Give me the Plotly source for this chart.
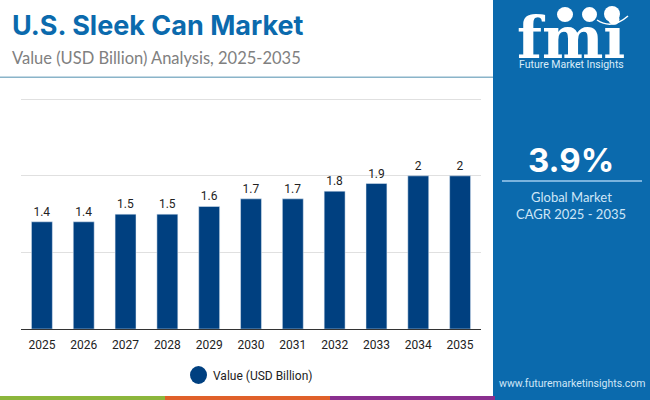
import plotly.graph_objects as go

years = ["2025", "2026", "2027", "2028", "2029", "2030", "2031", "2032", "2033", "2034", "2035"]
values = [1.4, 1.4, 1.5, 1.5, 1.6, 1.7, 1.7, 1.8, 1.9, 2, 2]
bar_labels = ["1.4", "1.4", "1.5", "1.5", "1.6", "1.7", "1.7", "1.8", "1.9", "2", "2"]

W = 650
H = 400
BLUE = "#0b6aad"
NAVY = "#004080"


def px(x):
    return x / W


def py(y):
    return 1 - y / H


def rect(x0, y0, x1, y1, color, layer="below"):
    return dict(type="rect", xref="paper", yref="paper", x0=px(x0), x1=px(x1),
                y0=py(y1), y1=py(y0), fillcolor=color, line_width=0, layer=layer)


def circle(x0, y0, x1, y1, color):
    return dict(type="circle", xref="paper", yref="paper", x0=px(x0), x1=px(x1),
                y0=py(y1), y1=py(y0), fillcolor=color, line_width=0, layer="above")


def label(x, y, text, size, color, family="Roboto", anchor="center"):
    return dict(xref="paper", yref="paper", x=px(x), y=py(y), text=text, showarrow=False,
                xanchor=anchor, yanchor="middle", font=dict(family=family, size=size, color=color))


fig = go.Figure(go.Bar(
    x=years,
    y=values,
    text=bar_labels,
    textposition="outside",
    cliponaxis=False,
    textfont=dict(family="Roboto", size=12, color="#222222"),
    marker_color=NAVY,
    width=0.5,
    showlegend=False,
))

shapes = [
    rect(493, 0, 650, 400, BLUE),
    rect(0, 76.5, 493, 78, "#8ab4c9"),
    rect(0, 396, 165, 400, "#8cb63c"),
    rect(165, 396, 330, 400, "#e0602a"),
    rect(330, 396, 495, 400, "#8a2f8f"),
    rect(502, 180, 642, 182, "#7ab3de"),
    circle(190, 366, 207, 384, NAVY),
    # globes on the logo
    circle(557, 7, 573, 22, "white"),
    circle(582, 7, 597, 22, "white"),
    circle(604, 6, 620, 22, "white"),
    # smile under the globes
    dict(type="path", xref="paper", yref="paper", layer="above",
         path=f"M {px(597)} {py(20)} Q {px(612)} {py(30)} {px(628)} {py(16)}",
         line=dict(color="white", width=1.5)),
]

# stripes across the logo letters
for y in range(27, 56, 4):
    shapes.append(rect(515, y, 630, y + 1, BLUE, layer="above"))

annotations = [
    label(10, 26, "<b>U.S. Sleek Can Market</b>", 27, BLUE, "Inter", "left"),
    label(10, 58, "Value (USD Billion) Analysis, 2025-2035", 16.5, "#808080", "Lato", "left"),
    label(211, 376, "Value (USD Billion)", 12, "#222222", anchor="left"),
    label(571, 38, "<b>fmi</b>", 58, "white", "DejaVu Serif"),
    label(571, 64, "Future Market Insights", 10.5, "#d9ecf9"),
    label(571, 160, "<b>3.9%</b>", 33, "white", "Inter"),
    label(571, 197, "Global Market", 13, "#cfe6f7", "Lato"),
    label(571, 214, "CAGR 2025 - 2035", 13, "#cfe6f7", "Lato"),
    label(572, 383, "www.futuremarketinsights.com", 10.5, "#cfe6f7"),
]

fig.update_layout(
    width=W,
    height=H,
    margin=dict(l=0, r=0, t=0, b=0),
    paper_bgcolor="white",
    plot_bgcolor="white",
    shapes=shapes,
    annotations=annotations,
    xaxis=dict(
        domain=[px(21), px(481)],
        tickfont=dict(family="Roboto", size=12, color="#222222"),
        showline=True,
        linecolor="#333333",
        ticks="",
        ticklabelstandoff=5,
    ),
    yaxis=dict(
        domain=[py(329), py(97)],
        range=[0, 3.03],
        dtick=1,
        showticklabels=False,
        gridcolor="#e0e0e0",
        zeroline=False,
    ),
)

# the page's default body margin would push the figure off by 8px
fig.write_html("out.html", config=dict(displayModeBar=False), post_script="document.body.style.margin='0';")
